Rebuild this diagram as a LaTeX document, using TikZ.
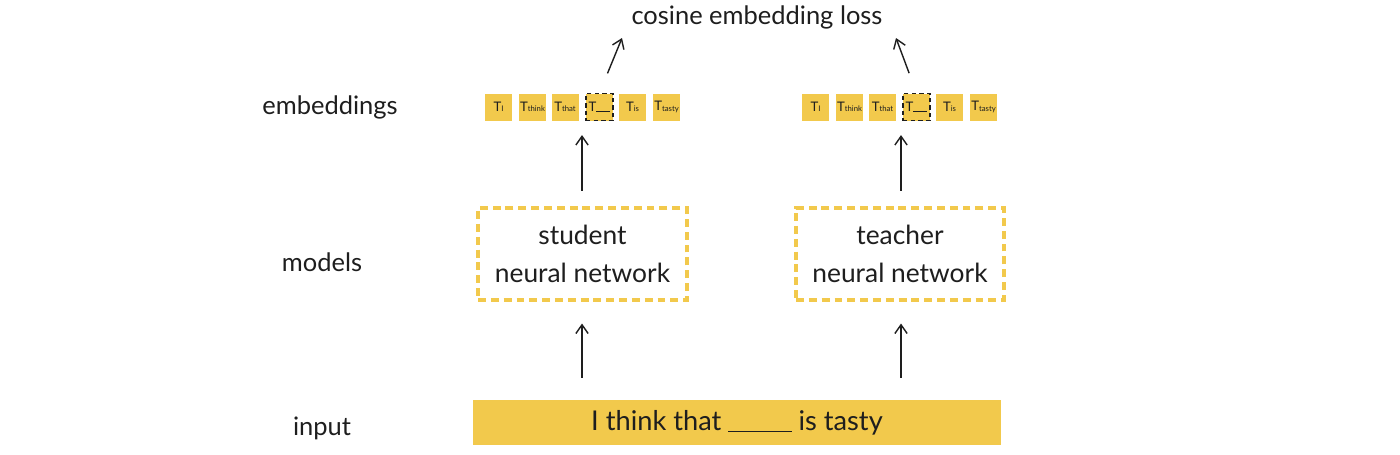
\documentclass[tikz,border=0pt]{standalone}
\usepackage{fontspec}
\setmainfont{Lato}
\usetikzlibrary{arrows.meta}
\definecolor{tokyellow}{HTML}{F2C94C}
\definecolor{ink}{HTML}{1E1E1E}
\tikzset{
  lbl/.style={text=ink, font=\fontsize{14.5}{17}\selectfont, inner sep=0pt},
  tok/.style={fill=tokyellow, minimum width=0.54cm, minimum height=0.54cm, inner sep=0pt, text=ink, font=\fontsize{7.5}{8}\selectfont},
  blanktok/.style={tok, draw=ink, dashed, dash pattern=on 2.5pt off 1.8pt, line width=0.7pt},
  model/.style={draw=tokyellow, line width=1.8pt, dash pattern=on 4.5pt off 2.8pt, minimum height=1.84cm, align=center, text=ink, font=\fontsize{15}{22}\selectfont, inner sep=0pt},
  arr/.style={-{Straight Barb[length=5pt,width=7pt]}, line width=0.8pt, draw=ink},
}
\newcommand{\toksub}[1]{\raisebox{-0.3pt}{\fontsize{4.4}{5}\selectfont #1}}
\begin{document}
\begin{tikzpicture}[x=0.02cm,y=-0.02cm]
\useasboundingbox[fill=white] (0,0) rectangle (1400,454);
% labels
\node[lbl] (loss) at (757,17) {cosine embedding loss};
\node[lbl] (lemb) at (330,107) {embeddings};
\node[lbl] (lmod) at (322,262) {models};
\node[lbl] (linp) at (322,428) {input};
% left tokens
\node[tok] (s1) at (498.5,107) {T\toksub{I}};
\node[tok] (s2) at (532.5,107) {T\toksub{think}};
\node[tok] (s3) at (565,107) {T\toksub{that}};
\node[blanktok] (s4) at (599.5,107) {T\rule{8pt}{0.5pt}};
\node[tok] (s5) at (632.5,107) {T\toksub{is}};
\node[tok] (s6) at (666.5,107) {T\toksub{tasty}};
% right tokens
\node[tok] (t1) at (815.5,107) {T\toksub{I}};
\node[tok] (t2) at (849.5,107) {T\toksub{think}};
\node[tok] (t3) at (882.5,107) {T\toksub{that}};
\node[blanktok] (t4) at (916.5,107) {T\rule{8pt}{0.5pt}};
\node[tok] (t5) at (949.5,107) {T\toksub{is}};
\node[tok] (t6) at (983.5,107) {T\toksub{tasty}};
% models
\node[model, minimum width=4.18cm] (student) at (582.5,254) {student\\neural network};
\node[model, minimum width=4.16cm] (teacher) at (900,254) {teacher\\neural network};
% input
\node[fill=tokyellow, minimum width=10.56cm, minimum height=0.9cm, inner sep=0pt, text=ink, font=\fontsize{15.5}{18}\selectfont] (input) at (737,422.5) {I think that \rule[-1pt]{36pt}{0.8pt} is tasty};
% coordinates for arrow tips
\coordinate (lossL) at (622,38);
\coordinate (lossR) at (896,38);
\coordinate (rowL) at (582,121);
\coordinate (rowR) at (901,121);
% arrows
\draw[arr, shorten <=12pt] (s4.north) -- (lossL);
\draw[arr, shorten <=12pt] (t4.north) -- (lossR);
\draw[arr, shorten <=9pt, shorten >=8pt] (student.north -| rowL) -- (rowL);
\draw[arr, shorten <=9pt, shorten >=8pt] (teacher.north -| rowR) -- (rowR);
\draw[arr, shorten <=12.5pt, shorten >=12.5pt] (input.north -| rowL) -- (student.south -| rowL);
\draw[arr, shorten <=12.5pt, shorten >=12.5pt] (input.north -| rowR) -- (teacher.south -| rowR);
\end{tikzpicture}
\end{document}
